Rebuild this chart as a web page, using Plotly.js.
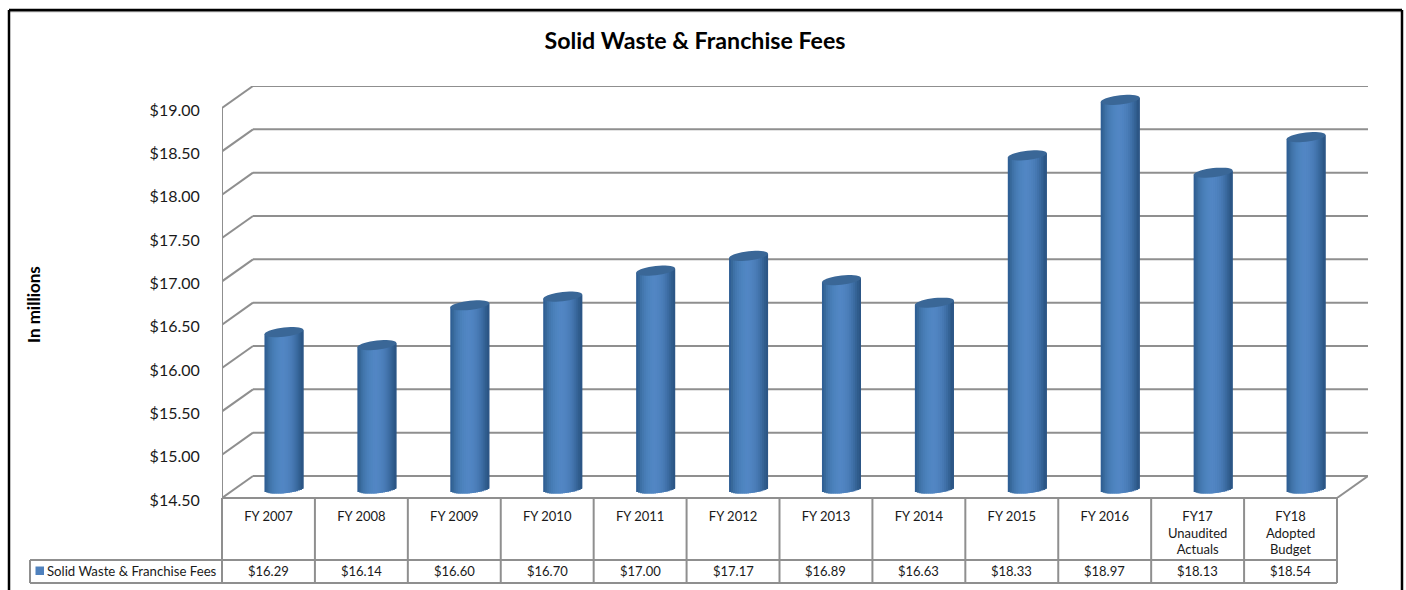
<!DOCTYPE html>
<html><head><meta charset="utf-8">
<script src="https://cdn.plot.ly/plotly-3.0.1.min.js"></script>
<style>html,body{margin:0;padding:0;background:#fff}#c{width:1406px;height:590px}</style>
</head><body><div id="c"></div>
<script>
const categories = ["FY 2007","FY 2008","FY 2009","FY 2010","FY 2011","FY 2012","FY 2013","FY 2014","FY 2015","FY 2016","FY17<br>Unaudited<br>Actuals","FY18<br>Adopted<br>Budget"];
const values = [16.29,16.14,16.60,16.70,17.00,17.17,16.89,16.63,18.33,18.97,18.13,18.54];
const seriesName = "Solid Waste & Franchise Fees";
const yTicks = [14.5,15,15.5,16,16.5,17,17.5,18,18.5,19];
const gradient = ["#2f5f95","#376899","#3e71a6","#4377ae","#477cb5","#4a80ba","#4d83be","#4f85c1","#5186c3","#5286c4","#5185c2","#4f83c0","#4d80bc","#4a7db8","#4678b2","#4172aa","#3b6ba1","#356396","#2f5c8c","#2c5686"];

// Pixel frame of the plot area
const L=222,R=1368,T=86,B=498, unitX=1115/12, unitY=390/4.5;
const depthX=31, depthY=22, barShiftX=15.5, barShiftY=10.7;
const xr=[-0.5,-0.5+(R-L)/unitX], yr=[14.5,14.5+(B-T)/unitY];
const px=x=>(x-L)/(R-L), py=y=>(B-y)/(B-T);
const bx=barShiftX/unitX, by=barShiftY/unitY;
const dxU=depthX/unitX, dyU=depthY/unitY;
const barW=39/unitX, ryPx=4.6, slope=0.11;
const floorVal=14.486;

const idx=categories.map((_,i)=>i);
const traces=[{x:idx,y:values,type:'scatter',mode:'none',xaxis:'x',yaxis:'y',showlegend:false,hoverinfo:'skip'}];
const n=gradient.length;
gradient.forEach((col,s)=>{
  const w=barW/n, off=-barW/2+s*w;
  const mid=(off+w/2)/(barW/2);              // -1..1 across the cylinder
  const tilt=-mid*19.5*slope;                // px, + = lower on the screen
  const edge=Math.sqrt(Math.max(0,1-mid*mid))*ryPx+tilt;
  const base=floorVal-edge/unitY;
  const drawW=Math.min(w*2.2,barW/2-off);    // overlap the next strip so no seam shows
  traces.push({
    type:'bar',x:idx,xaxis:'x2',yaxis:'y2',
    y:values.map(v=>v-tilt/unitY-base),base:values.map(()=>base),
    width:values.map(()=>drawW),offset:values.map(()=>off),
    marker:{color:col,line:{width:0}},showlegend:false,
    name:seriesName,hoverinfo:'skip'
  });
});

const GRID='#8f8f8f';
const line=(x0,y0,x1,y1,xref,yref,color,width,layer)=>({type:'line',x0,y0,x1,y1,xref,yref,layer:layer||'below',line:{color:color||GRID,width:width||2}});
const shapes=[];
// back wall, left wall and floor
yTicks.forEach(t=>{
  shapes.push(line(xr[0]+dxU,t+dyU,xr[1],t+dyU,'x','y'));
  shapes.push(line(xr[0],t,xr[0]+dxU,t+dyU,'x','y'));
});
shapes.push(line(xr[0],14.5,xr[0],19,'x','y'));
shapes.push(line(11.5,14.5,xr[1],14.5+dyU,'x','y'));
// data table grid
shapes.push(line(px(L),py(B),px(1337),py(B),'paper','paper'));
shapes.push(line(px(30),py(560),px(1337),py(560),'paper','paper'));
shapes.push(line(px(30),py(583),px(1337),py(583),'paper','paper'));
shapes.push(line(px(30),py(560),px(30),py(583),'paper','paper'));
for(let i=0;i<=12;i++){const X=L+i*unitX;shapes.push(line(px(X),py(B),px(X),py(583),'paper','paper'));}
// outer frame
shapes.push(line(px(9),py(11.7),px(1402),py(11.7),'paper','paper','#a0a0a0',1.2,'above'));
shapes.push(line(px(9),py(10),px(1402),py(10),'paper','paper','#000',2.5,'above'));
shapes.push(line(px(9),py(10),px(9),py(590),'paper','paper','#000',2.5,'above'));
shapes.push(line(px(1402),py(10),px(1402),py(590),'paper','paper','#000',2.5,'above'));
// legend key
shapes.push({type:'rect',xref:'paper',yref:'paper',x0:px(35.5),x1:px(44),y0:py(575),y1:py(566.5),fillcolor:'#4f81bd',line:{width:0}});
// cylinder tops, computed from the values
values.forEach((v,i)=>{
  let d='';
  for(let k=0;k<=36;k++){
    const a=k/36*2*Math.PI, X=Math.cos(a)*barW/2, Y=(Math.cos(a)*19.5*slope+Math.sin(a)*ryPx)/unitY;
    d+=(k?'L':'M')+(i+X)+','+(v+Y)+' ';
  }
  shapes.push({type:'path',path:d+'Z',xref:'x2',yref:'y2',layer:'above',fillcolor:'#3a6797',line:{width:0}});
});

const FONT='Lato, Carlito, Calibri, sans-serif';
const annotations=values.map((v,i)=>({text:'$'+v.toFixed(2),x:i,xref:'x',y:py(570.8),yref:'paper',showarrow:false,xanchor:'center',yanchor:'middle',font:{family:FONT,size:13,color:'#1a1a1a'}}));
annotations.push({text:seriesName,x:px(45),xref:'paper',y:py(570.8),yref:'paper',showarrow:false,xanchor:'left',yanchor:'middle',font:{family:FONT,size:13.2,color:'#1a1a1a'}});
annotations.push({text:'<b>In millions</b>',x:px(33),xref:'paper',y:py(305),yref:'paper',showarrow:false,textangle:-90,xanchor:'center',yanchor:'middle',font:{family:FONT,size:17,color:'#000'}});

const layout={
  width:1406,height:590,paper_bgcolor:'#fff',plot_bgcolor:'#fff',
  margin:{l:L,r:1406-R,t:T,b:590-B,pad:0},
  barmode:'overlay',showlegend:false,
  title:{text:'<b>Solid Waste & Franchise Fees</b>',x:695/1406,xanchor:'center',y:1-41/590,yanchor:'middle',font:{family:FONT,size:23.2,color:'#000'}},
  xaxis:{type:'linear',range:xr,tickmode:'array',tickvals:idx,ticktext:categories,ticks:'outside',ticklen:6,tickcolor:'rgba(0,0,0,0)',showgrid:false,zeroline:false,showline:false,fixedrange:true,tickangle:0,tickfont:{family:FONT,size:13,color:'#1a1a1a'}},
  yaxis:{type:'linear',range:yr,tickmode:'array',tickvals:yTicks,ticktext:yTicks.map(t=>'$'+t.toFixed(2)),ticks:'outside',ticklen:18,tickcolor:'rgba(0,0,0,0)',showgrid:false,zeroline:false,showline:false,fixedrange:true,ticklabelshift:2,tickfont:{family:FONT,size:16,color:'#1a1a1a'}},
  xaxis2:{type:'linear',overlaying:'x',anchor:'y2',range:[xr[0]-bx,xr[1]-bx],visible:false,fixedrange:true},
  yaxis2:{type:'linear',overlaying:'y',anchor:'x2',range:[yr[0]-by,yr[1]-by],visible:false,fixedrange:true},
  shapes,annotations
};
Plotly.newPlot('c',traces,layout,{displayModeBar:false,staticPlot:false});
</script></body></html>
